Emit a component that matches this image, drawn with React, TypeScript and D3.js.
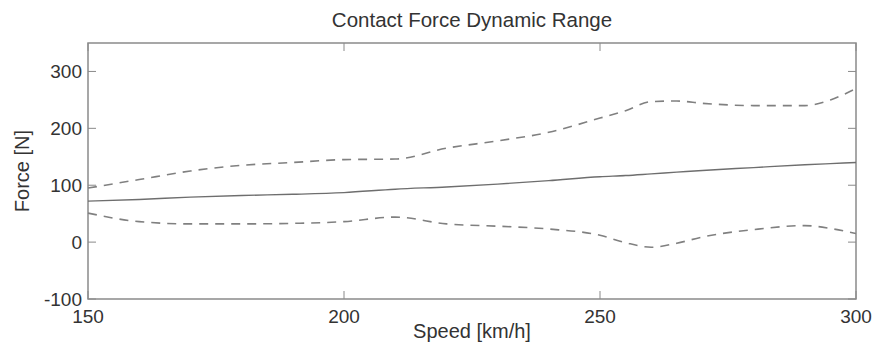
import { useEffect, useRef } from 'react'
import * as d3 from 'd3'

// speed samples [km/h]
const speeds = [150, 160, 170, 180, 190, 200, 210, 220, 230, 240, 250, 255, 260, 265, 270, 280, 290, 295, 300]
// mean contact force [N]
const meanForce = [72, 75, 79, 82, 84, 87, 93, 97, 102, 108, 115, 117, 120, 123, 126, 131, 136, 138, 140]
// mean + 3 sigma
const upperForce = [95, 110, 125, 135, 140, 145, 146, 165, 178, 193, 218, 231, 247, 248, 244, 240, 240, 250, 270]
// mean - 3 sigma
const lowerForce = [51, 36, 32, 32, 33, 36, 44, 32, 28, 23, 12, -1, -9, -2, 9, 22, 29, 24, 15]

const xTicks = [150, 200, 250, 300]
const yTicks = [-100, 0, 100, 200, 300]

const width = 877
const height = 351
const margin = { top: 43, right: 21, bottom: 52, left: 88 }

export default function App() {
  const svgRef = useRef<SVGSVGElement>(null)

  useEffect(() => {
    document.body.style.margin = '0'
    if (!svgRef.current) return

    const svg = d3.select(svgRef.current)
    svg.selectAll('*').remove()

    const innerW = width - margin.left - margin.right
    const innerH = height - margin.top - margin.bottom

    const x = d3.scaleLinear().domain([150, 300]).range([0, innerW])
    const y = d3.scaleLinear().domain([-100, 350]).range([innerH, 0])

    const g = svg.append('g').attr('transform', `translate(${margin.left},${margin.top})`)

    const axisColor = '#8a8a8a'
    const textColor = '#333'
    const font = 'Liberation Sans, Arial, sans-serif'
    const tick = 8

    // box
    g.append('rect')
      .attr('width', innerW)
      .attr('height', innerH)
      .attr('fill', 'none')
      .attr('stroke', axisColor)
      .attr('stroke-width', 1.5)

    // inward ticks on all four sides
    xTicks.forEach(t => {
      g.append('line')
        .attr('x1', x(t)).attr('x2', x(t))
        .attr('y1', innerH).attr('y2', innerH - tick)
        .attr('stroke', axisColor)
      g.append('line')
        .attr('x1', x(t)).attr('x2', x(t))
        .attr('y1', 0).attr('y2', tick)
        .attr('stroke', axisColor)
      g.append('text')
        .attr('x', x(t))
        .attr('y', innerH + 24)
        .attr('text-anchor', 'middle')
        .attr('fill', textColor)
        .attr('font-family', font)
        .attr('font-size', 19)
        .text(t)
    })

    yTicks.forEach(t => {
      g.append('line')
        .attr('x1', 0).attr('x2', tick)
        .attr('y1', y(t)).attr('y2', y(t))
        .attr('stroke', axisColor)
      g.append('line')
        .attr('x1', innerW).attr('x2', innerW - tick)
        .attr('y1', y(t)).attr('y2', y(t))
        .attr('stroke', axisColor)
      g.append('text')
        .attr('x', -6)
        .attr('y', y(t))
        .attr('dy', '0.35em')
        .attr('text-anchor', 'end')
        .attr('fill', textColor)
        .attr('font-family', font)
        .attr('font-size', 19)
        .text(t)
    })

    const line = (vals: number[]) =>
      d3.line<number>()
        .x((_, i) => x(speeds[i]))
        .y(d => y(d))
        .curve(d3.curveMonotoneX)(vals)

    g.append('path')
      .attr('d', line(upperForce))
      .attr('fill', 'none')
      .attr('stroke', '#808080')
      .attr('stroke-width', 1.6)
      .attr('stroke-dasharray', '9,7')

    g.append('path')
      .attr('d', line(lowerForce))
      .attr('fill', 'none')
      .attr('stroke', '#808080')
      .attr('stroke-width', 1.6)
      .attr('stroke-dasharray', '9,7')

    g.append('path')
      .attr('d', line(meanForce))
      .attr('fill', 'none')
      .attr('stroke', '#6e6e6e')
      .attr('stroke-width', 1.4)

    // labels
    svg.append('text')
      .attr('x', margin.left + innerW / 2)
      .attr('y', 27)
      .attr('text-anchor', 'middle')
      .attr('fill', textColor)
      .attr('font-family', font)
      .attr('font-size', 20.5)
      .text('Contact Force Dynamic Range')

    svg.append('text')
      .attr('x', margin.left + innerW / 2)
      .attr('y', 338)
      .attr('text-anchor', 'middle')
      .attr('fill', textColor)
      .attr('font-family', font)
      .attr('font-size', 20)
      .text('Speed [km/h]')

    svg.append('text')
      .attr('transform', `translate(29,${margin.top + innerH / 2}) rotate(-90)`)
      .attr('text-anchor', 'middle')
      .attr('fill', textColor)
      .attr('font-family', font)
      .attr('font-size', 20)
      .text('Force [N]')
  }, [])

  return <svg ref={svgRef} width={width} height={height} style={{ display: 'block', background: '#fff' }} />
}
